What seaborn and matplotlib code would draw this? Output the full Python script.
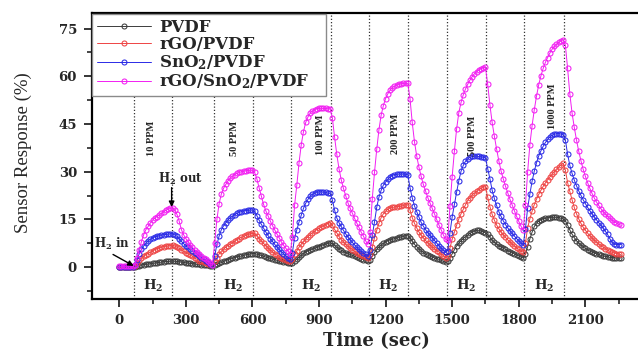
import numpy as np
import matplotlib
matplotlib.use("Agg")
import matplotlib.pyplot as plt
from matplotlib.ticker import MultipleLocator
import seaborn as sns

# Sensor response (%) sampled every STEP seconds, one list per film
STEP = 10

pvdf = [
    0.0, 0.0, 0.0, 0.0, 0.0, 0.0, 0.0,
    0.1, 0.3, 0.5, 0.7, 0.8, 0.9, 1.0, 1.1, 1.2, 1.3, 1.4, 1.5, 1.6, 1.7, 1.8, 1.8, 1.9, 1.9,
    1.9, 1.8, 1.7, 1.6, 1.5, 1.4, 1.3, 1.2, 1.1, 1.0, 0.9, 0.9, 0.8, 0.7, 0.7, 0.6, 0.5, 0.5,
    0.7, 0.9, 1.2, 1.5, 1.8, 2.1, 2.4, 2.6, 2.8, 3.0, 3.2, 3.4, 3.5, 3.7, 3.9, 4.0, 4.2, 4.3,
    4.3, 4.1, 3.9, 3.7, 3.5, 3.2, 3.0, 2.8, 2.6, 2.4, 2.2, 2.0, 1.8, 1.6, 1.5, 1.4, 1.3,
    1.4, 1.9, 2.5, 3.1, 3.7, 4.4, 4.8, 5.1, 5.4, 5.7, 6.0, 6.2, 6.5, 6.8, 7.0, 7.3, 7.5, 7.7,
    7.5, 6.9, 6.3, 5.7, 5.3, 4.9, 4.6, 4.3, 4.0, 3.7, 3.4, 3.1, 2.9, 2.6, 2.4, 2.2, 2.0,
    2.3, 3.4, 4.7, 5.6, 6.3, 6.9, 7.5, 8.0, 8.3, 8.6, 8.8, 9.0, 9.2, 9.4, 9.5, 9.7, 9.9, 9.9,
    9.2, 8.2, 7.2, 6.5, 5.8, 5.2, 4.6, 4.1, 3.8, 3.5, 3.2, 2.9, 2.7, 2.5, 2.2, 1.8, 1.5,
    1.8, 3.0, 4.2, 5.5, 6.7, 7.6, 8.3, 9.0, 9.6, 10.1, 10.6, 11.0, 11.4, 11.6, 11.6, 11.4, 11.1, 10.8,
    10.3, 9.4, 8.4, 7.8, 7.3, 6.8, 6.4, 6.0, 5.6, 5.2, 4.9, 4.6, 4.2, 3.9, 3.6, 3.2, 2.9,
    4.0, 6.5, 8.9, 11.0, 12.8, 13.9, 14.5, 14.9, 15.2, 15.4, 15.5, 15.6, 15.7, 15.7, 15.7, 15.6, 15.4, 15.2,
    14.6, 13.2, 11.7, 10.4, 9.3, 8.3, 7.6, 7.0, 6.4, 5.9, 5.5, 5.1, 4.8, 4.5, 4.2, 4.0, 3.7, 3.5,
    3.4, 3.3, 3.1, 3.0, 3.0, 2.9, 2.9, 2.9,
]

rgo_pvdf = [
    0.1, 0.1, 0.1, 0.1, 0.1, 0.1, 0.1,
    0.4, 1.2, 2.2, 2.9, 3.5, 3.9, 4.3, 4.7, 5.1, 5.5, 5.8, 6.0, 6.3, 6.5, 6.6, 6.7, 6.8, 6.9,
    6.7, 6.3, 5.9, 5.4, 5.0, 4.6, 4.2, 3.8, 3.4, 2.9, 2.5, 2.1, 1.8, 1.5, 1.3, 1.1, 0.9, 0.8,
    1.8, 3.0, 4.2, 5.0, 5.7, 6.3, 6.8, 7.2, 7.7, 8.2, 8.6, 9.0, 9.4, 9.7, 10.0, 10.3, 10.5, 10.7,
    10.6, 9.9, 9.0, 8.2, 7.5, 6.8, 6.1, 5.4, 4.8, 4.3, 3.8, 3.3, 2.9, 2.6, 2.3, 2.1, 1.9,
    2.6, 4.0, 5.1, 6.3, 7.2, 8.1, 8.9, 9.6, 10.2, 10.8, 11.3, 11.8, 12.2, 12.6, 13.0, 13.4, 13.7, 14.0,
    13.2, 11.9, 10.8, 9.7, 8.7, 7.9, 7.2, 6.6, 6.0, 5.5, 5.0, 4.5, 4.1, 3.7, 3.4, 3.1, 2.9,
    4.0, 6.2, 9.2, 11.6, 13.8, 15.6, 16.8, 17.6, 18.2, 18.6, 18.8, 18.9, 19.0, 19.1, 19.2, 19.4, 19.6, 19.6,
    18.0, 15.6, 13.8, 12.4, 11.1, 10.1, 9.2, 8.4, 7.6, 7.0, 6.4, 5.8, 5.2, 4.8, 4.2, 3.6, 3.0,
    3.4, 6.0, 8.8, 11.0, 13.2, 15.2, 16.8, 18.2, 19.6, 21.0, 21.9, 22.7, 23.3, 23.8, 24.3, 24.8, 25.3, 25.3,
    22.0, 19.0, 16.6, 14.8, 13.3, 12.1, 11.1, 10.2, 9.4, 8.6, 8.0, 7.3, 6.7, 6.1, 5.6, 5.1, 4.7,
    7.5, 12.4, 15.2, 17.6, 19.7, 21.4, 22.9, 24.2, 25.4, 26.5, 27.5, 28.4, 29.2, 30.0, 30.8, 31.5, 32.1, 32.6,
    30.5, 26.6, 23.8, 21.2, 18.8, 16.8, 15.2, 13.8, 12.6, 11.6, 10.7, 9.9, 9.2, 8.5, 7.9, 7.3, 6.8, 6.3,
    5.8, 5.4, 5.0, 4.7, 4.5, 4.3, 4.1, 4.0,
]

sno2_pvdf = [
    0.2, 0.2, 0.2, 0.2, 0.2, 0.2, 0.2,
    0.8, 2.4, 4.2, 5.6, 6.7, 7.5, 8.2, 8.8, 9.2, 9.5, 9.7, 9.9, 10.1, 10.2, 10.3, 10.4, 10.5, 10.5,
    10.2, 9.7, 8.9, 8.1, 7.4, 6.8, 6.2, 5.7, 5.2, 4.6, 4.1, 3.5, 3.0, 2.5, 2.0, 1.5, 1.1, 0.8,
    3.5, 7.2, 9.8, 11.8, 13.0, 14.0, 14.9, 15.5, 16.0, 16.5, 16.9, 17.3, 17.5, 17.7, 17.8, 17.9, 18.0, 18.0,
    17.6, 16.2, 14.8, 13.5, 12.3, 11.1, 10.0, 9.0, 8.1, 7.2, 6.4, 5.6, 4.9, 4.2, 3.6, 3.0, 2.6,
    4.5, 9.3, 11.8, 14.2, 16.4, 18.5, 20.1, 21.3, 22.3, 22.9, 23.3, 23.6, 23.7, 23.7, 23.6, 23.5, 23.3, 23.2,
    21.2, 18.0, 15.5, 14.0, 12.8, 11.6, 10.5, 9.5, 8.6, 7.8, 7.0, 6.3, 5.6, 5.0, 4.5, 4.0, 3.6,
    5.5, 10.0, 14.2, 18.8, 22.0, 24.2, 25.8, 26.8, 27.6, 28.3, 28.8, 29.1, 29.2, 29.3, 29.3, 29.3, 29.2, 29.1,
    25.0, 21.8, 19.3, 17.5, 15.8, 14.1, 12.9, 11.8, 10.9, 10.0, 9.2, 8.4, 7.6, 6.8, 6.0, 5.3, 4.7,
    5.2, 10.8, 15.8, 19.8, 23.6, 27.2, 30.2, 32.0, 33.3, 34.1, 34.5, 34.8, 34.9, 34.9, 34.8, 34.7, 34.6, 34.4,
    31.0, 27.8, 24.2, 21.6, 19.4, 17.5, 16.0, 14.6, 13.4, 12.4, 11.4, 10.6, 9.8, 9.0, 8.3, 7.6, 7.0,
    12.0, 18.6, 23.0, 27.0, 30.2, 32.8, 35.0, 36.6, 38.0, 39.2, 40.2, 40.9, 41.4, 41.8, 42.0, 42.0, 41.9, 41.7,
    40.0, 35.5, 32.0, 29.5, 27.4, 25.6, 24.0, 22.6, 21.2, 20.0, 18.8, 17.8, 16.8, 15.8, 14.9, 14.0, 13.2, 12.3,
    11.3, 10.3, 9.0, 7.8, 7.3, 7.1, 7.1, 7.1,
]

rgo_sno2_pvdf = [
    0.3, 0.3, 0.3, 0.3, 0.3, 0.3, 0.3,
    0.8, 3.0, 5.5, 8.0, 10.2, 11.8, 12.8, 13.9, 14.8, 15.4, 15.9, 16.4, 16.9, 17.4, 17.9, 18.2, 18.5, 18.6,
    18.0, 16.6, 14.5, 11.8, 10.2, 9.0, 8.0, 7.0, 6.2, 5.5, 4.8, 4.1, 3.5, 3.0, 2.5, 1.9, 1.2, 0.8,
    7.6, 15.0, 20.0, 23.0, 24.8, 26.0, 27.2, 28.0, 28.6, 29.1, 29.5, 29.8, 30.0, 30.2, 30.3, 30.4, 30.5, 30.5,
    29.8, 27.8, 25.0, 22.4, 19.8, 17.8, 16.2, 14.6, 13.1, 11.8, 10.5, 9.3, 8.0, 6.9, 6.0, 5.1, 4.3,
    9.5, 19.5, 25.8, 32.8, 38.5, 42.6, 45.5, 47.2, 48.4, 49.1, 49.5, 49.8, 49.9, 50.0, 49.9, 49.9, 49.8, 49.8,
    47.0, 41.0, 35.5, 31.0, 27.5, 24.8, 22.5, 20.3, 18.6, 17.0, 15.4, 13.9, 12.5, 11.0, 9.8, 8.3, 7.2,
    11.0, 21.5, 29.8, 37.0, 43.2, 47.8, 50.8, 53.0, 54.5, 55.6, 56.4, 56.9, 57.3, 57.5, 57.7, 57.8, 57.8, 57.8,
    53.0, 45.5, 39.5, 35.0, 31.5, 28.6, 26.0, 23.9, 21.9, 20.2, 18.5, 16.8, 15.0, 13.3, 11.8, 10.2, 8.8,
    8.5, 19.2, 28.5, 36.5, 43.5, 48.6, 51.8, 54.2, 56.0, 57.5, 58.8, 59.9, 60.8, 61.5, 62.0, 62.4, 62.7, 62.8,
    57.5, 51.0, 45.5, 41.2, 37.2, 33.5, 30.3, 27.8, 25.5, 23.4, 21.4, 19.6, 17.8, 16.0, 14.4, 12.9, 11.6,
    19.5, 30.0, 38.5, 44.5, 49.5, 53.8, 57.4, 60.2, 62.5, 64.4, 65.9, 67.3, 68.5, 69.4, 70.1, 70.7, 71.1, 71.5,
    69.8, 62.5, 54.5, 48.5, 44.0, 40.0, 36.5, 33.5, 30.8, 28.6, 26.6, 24.8, 23.2, 21.8, 20.5, 19.4, 18.4, 17.5,
    16.7, 16.0, 15.4, 14.8, 14.3, 13.9, 13.5, 13.2,
]

series = [pvdf, rgo_pvdf, sno2_pvdf, rgo_sno2_pvdf]
series_labels = ["PVDF", "rGO/PVDF", r"SnO$_\mathbf{2}$/PVDF", r"rGO/SnO$_\mathbf{2}$/PVDF"]
series_colors = ["#3c3c3c", "#ee4444", "#2a2ae6", "#f21ef2"]

# H2 switched on / off (s) and the concentration of each pulse
h2_in = [65, 425, 776, 1125, 1478, 1823]
h2_out = [238, 603, 953, 1301, 1651, 2004]
concentrations = ["10 PPM", "50 PPM", "100 PPM", "200 PPM", "500 PPM", "1000 PPM"]

# where the concentration captions sit (s, %)
conc_label_x = [146, 520, 908, 1245, 1592, 1953]
conc_label_y = [40.5, 40.5, 41.5, 41.8, 41.2, 50.5]

sns.set_style("ticks")
plt.rcParams["font.family"] = ["DejaVu Serif", "DejaVu Sans"]
plt.rcParams["mathtext.fontset"] = "dejavuserif"

fig = plt.figure(figsize=(6.38, 3.5), dpi=100)
W, H = 638.0, 350.0
ax = fig.add_axes([91.5 / W, (H - 299) / H, 556 / W, 286.3 / H])

handles = []
for vals, lab, col in zip(series, series_labels, series_colors):
    t = STEP * np.arange(len(vals))
    sns.lineplot(x=t, y=vals, ax=ax, color=col, marker="o", markersize=3.6,
                 markerfacecolor="none", markeredgecolor=col, markeredgewidth=0.75,
                 linewidth=0.7, estimator=None, sort=False, zorder=3)
    handles.append(ax.get_lines()[-1])

# H2 on/off markers
for t0 in h2_in + h2_out:
    ax.axvline(t0, color="#333333", linestyle=(0, (1, 1.6)), linewidth=0.9, zorder=1)

ax.set_xlim(-125, 2380)
ax.set_ylim(-10, 80)
ax.set_xticks(np.arange(0, 2101, 300))
ax.set_yticks(np.arange(0, 76, 15))
ax.xaxis.set_minor_locator(MultipleLocator(150))
ax.yaxis.set_minor_locator(MultipleLocator(7.5))

for side in ["left", "bottom", "top", "right"]:
    ax.spines[side].set_linewidth(1.6)
    ax.spines[side].set_color("black")
ax.tick_params(which="major", direction="out", length=6, width=1.3, pad=4.5,
               labelsize=9.5, top=False, right=False)
ax.tick_params(which="minor", direction="out", length=3.5, width=1.2, top=False, right=False)
for lbl in ax.get_xticklabels() + ax.get_yticklabels():
    lbl.set_fontweight("bold")

ax.set_xlabel("Time (sec)", fontsize=13, fontweight="bold", va="center")
ax.xaxis.set_label_coords((376 - 91.5) / 556, (299 - 341) / 286.3)
ax.set_ylabel("Sensor Response (%)", fontsize=13.5, family="Liberation Serif",
              va="center", ha="center")
ax.yaxis.set_label_coords((23 - 91.5) / 556, (299 - 153) / 286.3)

# concentration captions and H2 marks under each pulse
for xc, yc, txt in zip(conc_label_x, conc_label_y, concentrations):
    ax.text(xc, yc, txt, rotation=90, ha="center", va="center", fontsize=7.5,
            fontweight="bold", family="Liberation Serif", zorder=4)
for a, b in zip(h2_in, h2_out):
    ax.text((a + b) / 2, -6, r"H$_\mathbf{2}$", ha="center", va="center",
            fontsize=9.5, fontweight="bold", zorder=4)

ax.text(-34, 7.3, r"H$_\mathbf{2}$ in", ha="center", va="center", fontsize=8.5,
        fontweight="bold", zorder=4)
ax.annotate("", xy=(h2_in[0], 0.4), xytext=(-28, 4.0),
            arrowprops=dict(arrowstyle="-|>", color="black", lw=1.0, mutation_scale=8,
                            shrinkA=0, shrinkB=0), zorder=4)
ax.text(277, 27.7, r"H$_\mathbf{2}$ out", ha="center", va="center", fontsize=8.5,
        fontweight="bold", zorder=4)
ax.annotate("", xy=(236, rgo_sno2_pvdf[24] + 0.3), xytext=(236, 25.0),
            arrowprops=dict(arrowstyle="-|>", color="black", lw=1.0, mutation_scale=8,
                            shrinkA=0, shrinkB=0), zorder=4)

leg = ax.legend(handles=handles, labels=series_labels, loc="upper left",
                bbox_to_anchor=(0.0015, 0.70, 0.42, 0.2955), mode="expand",
                borderaxespad=0, frameon=True, fancybox=False, framealpha=1,
                edgecolor="#8a8a8a", handlelength=3.2, handletextpad=0.5,
                borderpad=0.3, labelspacing=0.02,
                prop=dict(family="DejaVu Serif", weight="bold", size=12))
leg.get_frame().set_linewidth(1.0)
leg.set_zorder(5)

fig.savefig("out.png", dpi=100)
